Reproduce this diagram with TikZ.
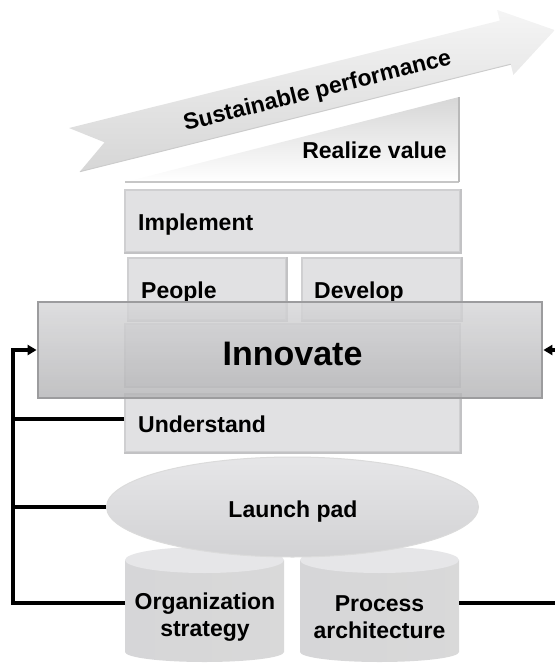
\documentclass[tikz,border=0pt]{standalone}
\usepackage{fontspec}
\setmainfont{Liberation Sans}
\usetikzlibrary{arrows.meta,shapes.geometric,calc}
\definecolor{boxfill}{HTML}{E1E1E3}
\definecolor{boxline}{HTML}{CFCFD1}
\definecolor{boxshadow}{HTML}{C2C2C4}
\definecolor{innovtop}{HTML}{D6D6D8}
\definecolor{innovbot}{HTML}{B4B4B6}
\definecolor{innovline}{HTML}{9C9C9E}
\definecolor{cylbody}{HTML}{D6D6D8}
\definecolor{cyltop}{HTML}{E6E6E8}
\definecolor{padtop}{HTML}{E6E6E8}
\definecolor{padbot}{HTML}{D2D2D4}
\begin{document}
\begin{tikzpicture}[x=1pt,y=-1pt,
  lbl/.style={font=\fontsize{23}{27}\selectfont\bfseries, inner sep=0pt, text=black},
  biglbl/.style={font=\fontsize{34}{40}\selectfont\bfseries, inner sep=0pt, text=black},
  stackbox/.style={draw=boxline, line width=1.5pt, fill=boxfill, inner sep=0pt},
  conn/.style={line width=3.2pt, black},
  tipin/.style={-{Triangle[length=9pt,width=10pt]}}
]
\useasboundingbox (0,0) rectangle (554,666);

% ---- rising arrow
\begin{scope}[shift={(69,128)}, rotate=14]
  \shade[top color=gray!8, bottom color=gray!32]
    (0,0) -- (444,0) -- (444,-11) -- (495,22.5) -- (444,56) -- (444,45) -- (0,45) -- (31,22.5) -- cycle;
  \draw[gray!40, line width=1pt] (0,45) -- (444,45);
  \node[lbl, rotate=14] (perf) at (250,25) {Sustainable performance};
\end{scope}

% ---- realize value wedge
\coordinate (wBL) at (125,182);
\coordinate (wTR) at (459,97);
\coordinate (wBR) at (459,182);
\shade[top color=gray!32, bottom color=white] (wBL) -- (wTR) -- (wBR) -- cycle;
\draw[gray!45, line width=2pt] (wBL) -- (wBR);
\draw[gray!55, line width=1.8pt] (wTR) -- (wBR);
\node[lbl, anchor=base east] (realize) at (447,158) {Realize value};

% ---- stack boxes
\node[stackbox, minimum width=335pt, minimum height=62pt] (impl) at (292.5,221) {};
\node[stackbox, minimum width=158pt, minimum height=62pt] (people) at (207,289) {};
\node[stackbox, minimum width=159pt, minimum height=62pt] (develop) at (381.5,289) {};
\node[stackbox, minimum width=335pt, minimum height=63pt] (innrow) at (292.5,355.5) {};
\node[stackbox, minimum width=335pt, minimum height=58pt] (und) at (292.5,423) {};
\foreach \b in {impl,people,develop,und}{
  \draw[boxshadow, line width=1.5pt] (\b.north east) -- (\b.south east) -- (\b.south west);
}

\node[lbl, anchor=base west] (implt) at (138,230) {Implement};
\node[lbl, anchor=base west] (peoplet) at (141,298) {People};
\node[lbl, anchor=base west] (developt) at (314,298) {Develop};
\node[lbl, anchor=base west] (undt) at (138,432) {Understand};

% ---- innovate overlay
\node[draw=innovline, line width=2.8pt, top color=innovtop, bottom color=innovbot,
      fill opacity=0.82, draw opacity=1, text opacity=1,
      minimum width=504pt, minimum height=96pt, inner sep=0pt] (innov) at (290,350) {};
\node[biglbl, anchor=base] (innovt) at (292.5,365) {Innovate};

% ---- cylinders
\shade[left color=cylbody, right color=gray!30]
  (125,560) -- (125,652) arc[start angle=180, end angle=360, x radius=79.5pt, y radius=10pt] -- (284,560) -- cycle;
\fill[cyltop] (204.5,560) ellipse [x radius=79.5pt, y radius=13pt];
\shade[left color=cylbody, right color=gray!30]
  (300,560) -- (300,652) arc[start angle=180, end angle=360, x radius=79.5pt, y radius=10pt] -- (459,560) -- cycle;
\fill[cyltop] (379.5,560) ellipse [x radius=79.5pt, y radius=13pt];
\coordinate (orgW) at (125,603);
\coordinate (procE) at (459,603);
\node[lbl, align=center] (org) at (205,617.5) {Organization\\strategy};
\node[lbl, align=center] (proc) at (379.5,617.5) {Process\\architecture};

% ---- launch pad
\node[ellipse, draw=gray!28, line width=1pt, top color=padtop, bottom color=padbot,
      minimum width=372pt, minimum height=100pt, inner sep=0pt] (pad) at (292.5,507) {};
\node[lbl, anchor=base] (padt) at (293,517) {Launch pad};

% ---- connectors
\coordinate (lcorner) at (13,350);
\coordinate (rcorner) at (574,350);
\coordinate (undW) at ($(und.west)+(0,-4)$);
\draw[conn, tipin] (orgW) -| (lcorner) -- (innov.west);
\draw[conn] (undW) -- (undW -| lcorner);
\draw[conn] (pad.west) -- (pad.west -| lcorner);
\draw[conn, tipin] (procE) -| (rcorner) -- (innov.east);
\end{tikzpicture}
\end{document}
